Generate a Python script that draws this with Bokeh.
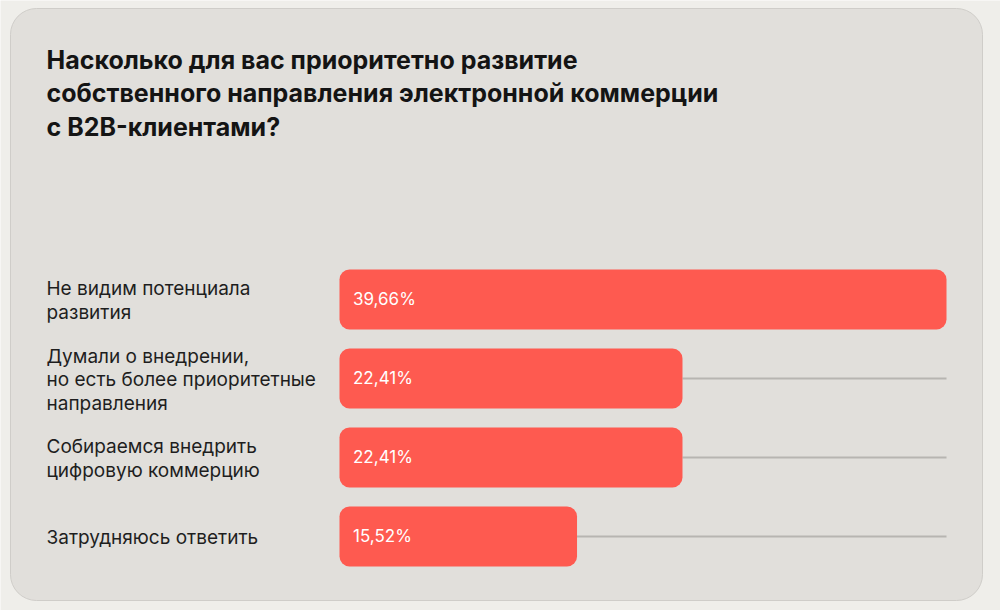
from bokeh.plotting import figure
from bokeh.models import Range1d, ColumnDataSource
from bokeh.core.properties import value
from bokeh.embed import file_html
from bokeh.resources import INLINE

# ---- data ----
title_lines = [
    "Насколько для вас приоритетно развитие",
    "собственного направления электронной коммерции",
    "с B2B-клиентами?",
]
categories = [
    "Не видим потенциала\nразвития",
    "Думали о внедрении,\nно есть более приоритетные\nнаправления",
    "Собираемся внедрить\nцифровую коммерцию",
    "Затрудняюсь ответить",
]
values = [39.66, 22.41, 22.41, 15.52]
value_labels = ["39,66%", "22,41%", "22,41%", "15,52%"]

# ---- layout constants (pixels) ----
W, H = 1000, 610
X0 = 339.0          # pixel of value 0
K = (946.0 - X0) / max(values)  # pixels per percent
Y0 = 299.0          # pixel centre of first bar
DY = 79.0           # pixels between bars

def dx(px):
    return (px - X0) / K

def dy(py):
    return (py - Y0) / DY

FONT = value("Inter")

p = figure(width=W, height=H, output_backend="svg", toolbar_location=None,
           x_range=Range1d(dx(0), dx(W)), y_range=Range1d(dy(H), dy(0)),
           min_border=0, min_border_left=0, min_border_right=0,
           min_border_top=0, min_border_bottom=0)
p.axis.visible = False
p.grid.visible = False
p.outline_line_color = None
p.background_fill_color = "#efeeea"
p.border_fill_color = "#efeeea"

# card
p.quad(left=[dx(10)], right=[dx(982)], top=[dy(8)], bottom=[dy(600)],
       fill_color="#e1dfdb", line_color="#cfcdc9", line_width=1, border_radius=26)

idx = list(range(len(values)))
src = ColumnDataSource(dict(y=idx, v=values, lab=value_labels,
                            vmax=[max(values)] * len(values)))

# guide lines
p.segment(x0="v", x1="vmax", y0="y", y1="y", source=src,
          line_color="#b7b5b1", line_width=2)

# bars
p.hbar(y="y", left=0, right="v", height=60 / DY, source=src,
       fill_color="#fe5a50", line_color=None, border_radius=10)

# value labels
VS = 17
p.text(x=dx(352.5), y=[i + (7.5 - 0.5 * VS) / DY for i in idx], text=value_labels,
       text_font=FONT, text_font_size=f"{VS}px", text_color="#ffffff",
       text_baseline="alphabetic", text_align="left")

# category labels (line by line)
CS = 19
lx, ly, lt = [], [], []
LH = 23.5
for i, cat in enumerate(categories):
    lines = cat.split("\n")
    n = len(lines)
    for j, line in enumerate(lines):
        lx.append(dx(46))
        ly.append(i + ((j - (n - 1) / 2) * LH + 10.5 - 0.5 * CS) / DY)
        lt.append(line)
p.text(x=lx, y=ly, text=lt, text_font=FONT, text_font_size=f"{CS}px",
       text_color="#1e1e1e", text_baseline="alphabetic", text_align="left")

# title
TS = 25
p.text(x=[dx(46)] * len(title_lines),
       y=[dy(71.5 + 33.5 * j - 0.5 * TS) for j in range(len(title_lines))],
       text=title_lines, text_font=FONT, text_font_size=f"{TS}px",
       text_font_style="bold", text_color="#141414",
       text_baseline="alphabetic", text_align="left")

open("out.html", "w").write(file_html(p, INLINE))
